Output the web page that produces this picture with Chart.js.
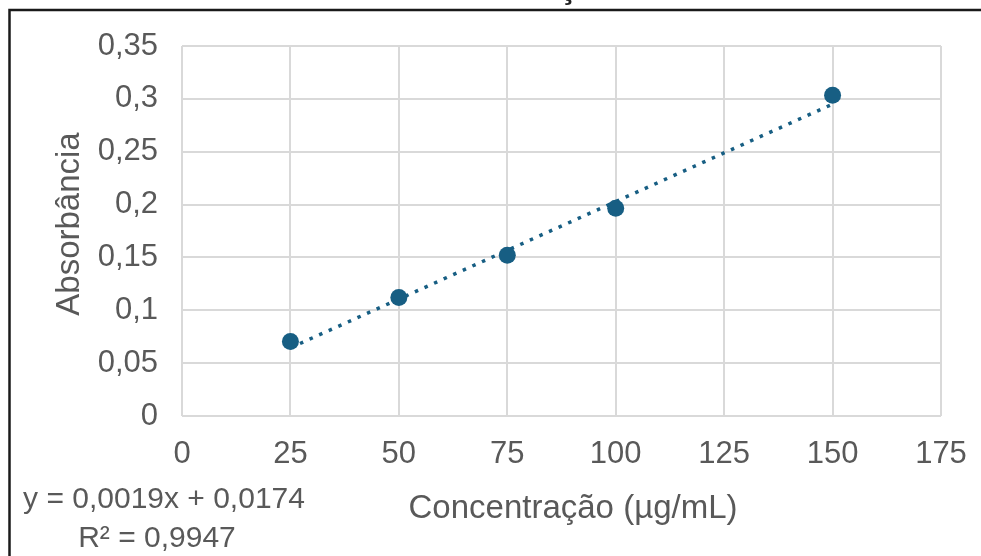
<!DOCTYPE html>
<html>
<head>
<meta charset="utf-8">
<script src="https://cdn.jsdelivr.net/npm/chart.js@4.4.1/dist/chart.umd.min.js"></script>
<style>
html,body{margin:0;padding:0;background:#fff;}
canvas{display:block;}
</style>
</head>
<body>
<canvas id="c" width="981" height="556"></canvas>
<script>
// ---- data ----
const concentrations = [25, 50, 75, 100, 150];
const absorbances = [0.0705, 0.112, 0.152, 0.1965, 0.3035];
const trendX = [25, 150];
const trendY = [0.0645, 0.295];
const xTicks = [0, 25, 50, 75, 100, 125, 150, 175];
const yTicks = [0, 0.05, 0.1, 0.15, 0.2, 0.25, 0.3, 0.35];
const xTitle = 'Concentração (µg/mL)';
const yTitle = 'Absorbância';
const equationLines = ['y = 0,0019x + 0,0174', 'R² = 0,9947'];
const titleFragment = 'ç';

const FONT = '"Liberation Sans", Arial, sans-serif';
const GREY = '#595959';
const MARK = '#175e83';

const fmt = v => String(v).replace('.', ',');

const pointsData = concentrations.map((x, i) => ({x: x, y: absorbances[i]}));
const trendData = trendX.map((x, i) => ({x: x, y: trendY[i]}));

const decor = {
  id: 'decor',
  beforeDraw(chart) {
    const ctx = chart.ctx;
    ctx.save();
    ctx.fillStyle = '#ffffff';
    ctx.fillRect(0, 0, chart.width, chart.height);
    ctx.restore();
  },
  afterDraw(chart) {
    const ctx = chart.ctx;
    ctx.save();
    // frame
    ctx.strokeStyle = '#1a1a1a';
    ctx.lineWidth = 2.5;
    ctx.beginPath();
    ctx.moveTo(9.5, chart.height + 5);
    ctx.lineTo(9.5, 10);
    ctx.lineTo(chart.width + 5, 10);
    ctx.stroke();
    // clipped title fragment
    ctx.fillStyle = '#222';
    ctx.font = 'bold 31px ' + FONT;
    ctx.textAlign = 'center';
    ctx.textBaseline = 'alphabetic';
    ctx.fillText(titleFragment, 568, -2.5);
    // axis titles
    ctx.fillStyle = GREY;
    ctx.font = '33px ' + FONT;
    ctx.textAlign = 'center';
    ctx.fillText(xTitle, 573, 518);
    ctx.save();
    ctx.translate(79, 224);
    ctx.rotate(-Math.PI / 2);
    ctx.font = '33px ' + FONT;
    ctx.fillText(yTitle, 0, 0);
    ctx.restore();
    // equation
    ctx.font = '30px ' + FONT;
    ctx.textAlign = 'center';
    ctx.fillText(equationLines[0], 164, 508);
    ctx.fillText(equationLines[1], 157, 547);
    ctx.restore();
  }
};

new Chart(document.getElementById('c'), {
  type: 'scatter',
  data: {
    datasets: [
      {
        label: 'Absorbância',
        data: pointsData,
        backgroundColor: MARK,
        borderColor: MARK,
        pointRadius: 8.5,
        pointHoverRadius: 8.5,
        borderWidth: 0,
        order: 0
      },
      {
        label: 'Linear',
        type: 'line',
        data: trendData,
        borderColor: MARK,
        borderWidth: 3.5,
        borderDash: [3.5, 7],
        borderCapStyle: 'butt',
        pointRadius: 0,
        fill: false,
        order: 1
      }
    ]
  },
  options: {
    responsive: false,
    animation: false,
    events: [],
    layout: {padding: {left: 0, top: 46, right: 40, bottom: 0}},
    plugins: {legend: {display: false}, tooltip: {enabled: false}, title: {display: false}},
    scales: {
      x: {
        type: 'linear',
        min: 0, max: 175,
        afterBuildTicks(scale) { scale.ticks = xTicks.map(v => ({value: v})); },
        afterFit(scale) { scale.height = 140; scale.paddingRight = 0; scale.paddingLeft = 0; },
        grid: {color: '#d9d9d9', lineWidth: 2, drawTicks: false},
        border: {display: false},
        ticks: {
          color: GREY, padding: 20, maxRotation: 0,
          font: {family: FONT, size: 31},
          callback: v => fmt(v)
        }
      },
      y: {
        type: 'linear',
        min: 0, max: 0.35,
        afterBuildTicks(scale) { scale.ticks = yTicks.map(v => ({value: v})); },
        afterFit(scale) { scale.width = 182; scale.paddingTop = 0; scale.paddingBottom = 0; },
        grid: {color: '#d9d9d9', lineWidth: 2, drawTicks: false},
        border: {display: false},
        ticks: {
          color: GREY, padding: 24,
          font: {family: FONT, size: 31},
          callback: v => fmt(Math.round(v * 100) / 100)
        }
      }
    }
  },
  plugins: [decor]
});
</script>
</body>
</html>
